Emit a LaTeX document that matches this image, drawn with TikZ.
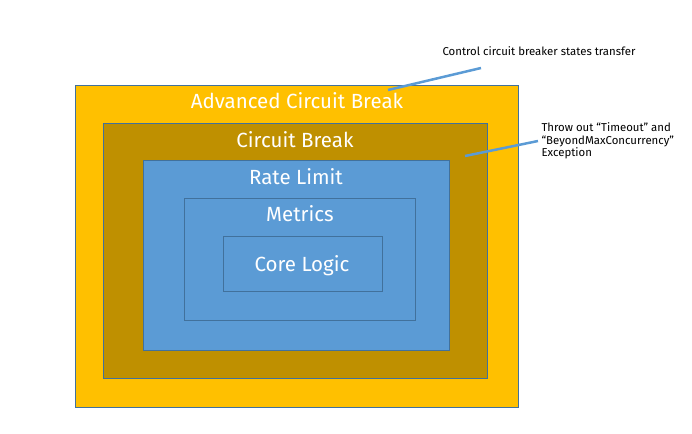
\documentclass[tikz,border=0pt]{standalone}
\usepackage{fontspec}
\setmainfont{Fira Sans}
\usepackage{tikz}
\usetikzlibrary{positioning}
\definecolor{gold}{RGB}{255,192,0}
\definecolor{darkgold}{RGB}{191,144,0}
\definecolor{skyblue}{RGB}{91,155,213}
\definecolor{edgeblue}{RGB}{65,113,156}

\tikzset{
  layer/.style={draw=edgeblue,line width=0.9pt,inner sep=0pt},
  layername/.style={text=white,font=\fontsize{20.5}{22}\selectfont},
  note/.style={font=\fontsize{11.4}{12.6}\selectfont,align=left,anchor=west},
  pointer/.style={draw=skyblue,line width=2.5pt}
}

\begin{document}
\begin{tikzpicture}[x=1pt,y=-1pt]
\useasboundingbox (0,0) rectangle (692,433);
% nested layers, outermost first
\node[layer,fill=gold,minimum width=443pt,minimum height=322pt] (adv) at (296.5,246) {};
\node[layer,fill=darkgold,minimum width=384pt,minimum height=255pt] (cb) at (295,250.5) {};
\node[layer,fill=skyblue,minimum width=306pt,minimum height=190pt] (rl) at (296,255) {};
\node[layer,fill=skyblue,minimum width=231pt,minimum height=122pt] (met) at (299.5,259) {};
\node[layer,fill=skyblue,minimum width=159pt,minimum height=55pt] (core) at (302.5,263.5) {};

\node[layername] (advname) at (297,101) {Advanced Circuit Break};
\node[layername] (cbname) at (295,140) {Circuit Break};
\node[layername] (rlname) at (296,177) {Rate Limit};
\node[layername] (metname) at (300,214) {Metrics};
\node[layername] (corename) at (302,266) {Core Logic};

% annotations
\node[note] (ctrl) at (439,51) {Control circuit breaker states transfer};
\node[note] (throw) at (538,141) {Throw out “Timeout” and\\“BeyondMaxConcurrency”\\Exception};
\coordinate (ctrltail) at (481,68);
\coordinate (ctrlhead) at (388,90);
\coordinate (throwhead) at (465,156);
\draw[pointer] (ctrltail) -- (ctrlhead);
\draw[pointer] (throw.west) -- (throwhead);
\end{tikzpicture}
\end{document}
